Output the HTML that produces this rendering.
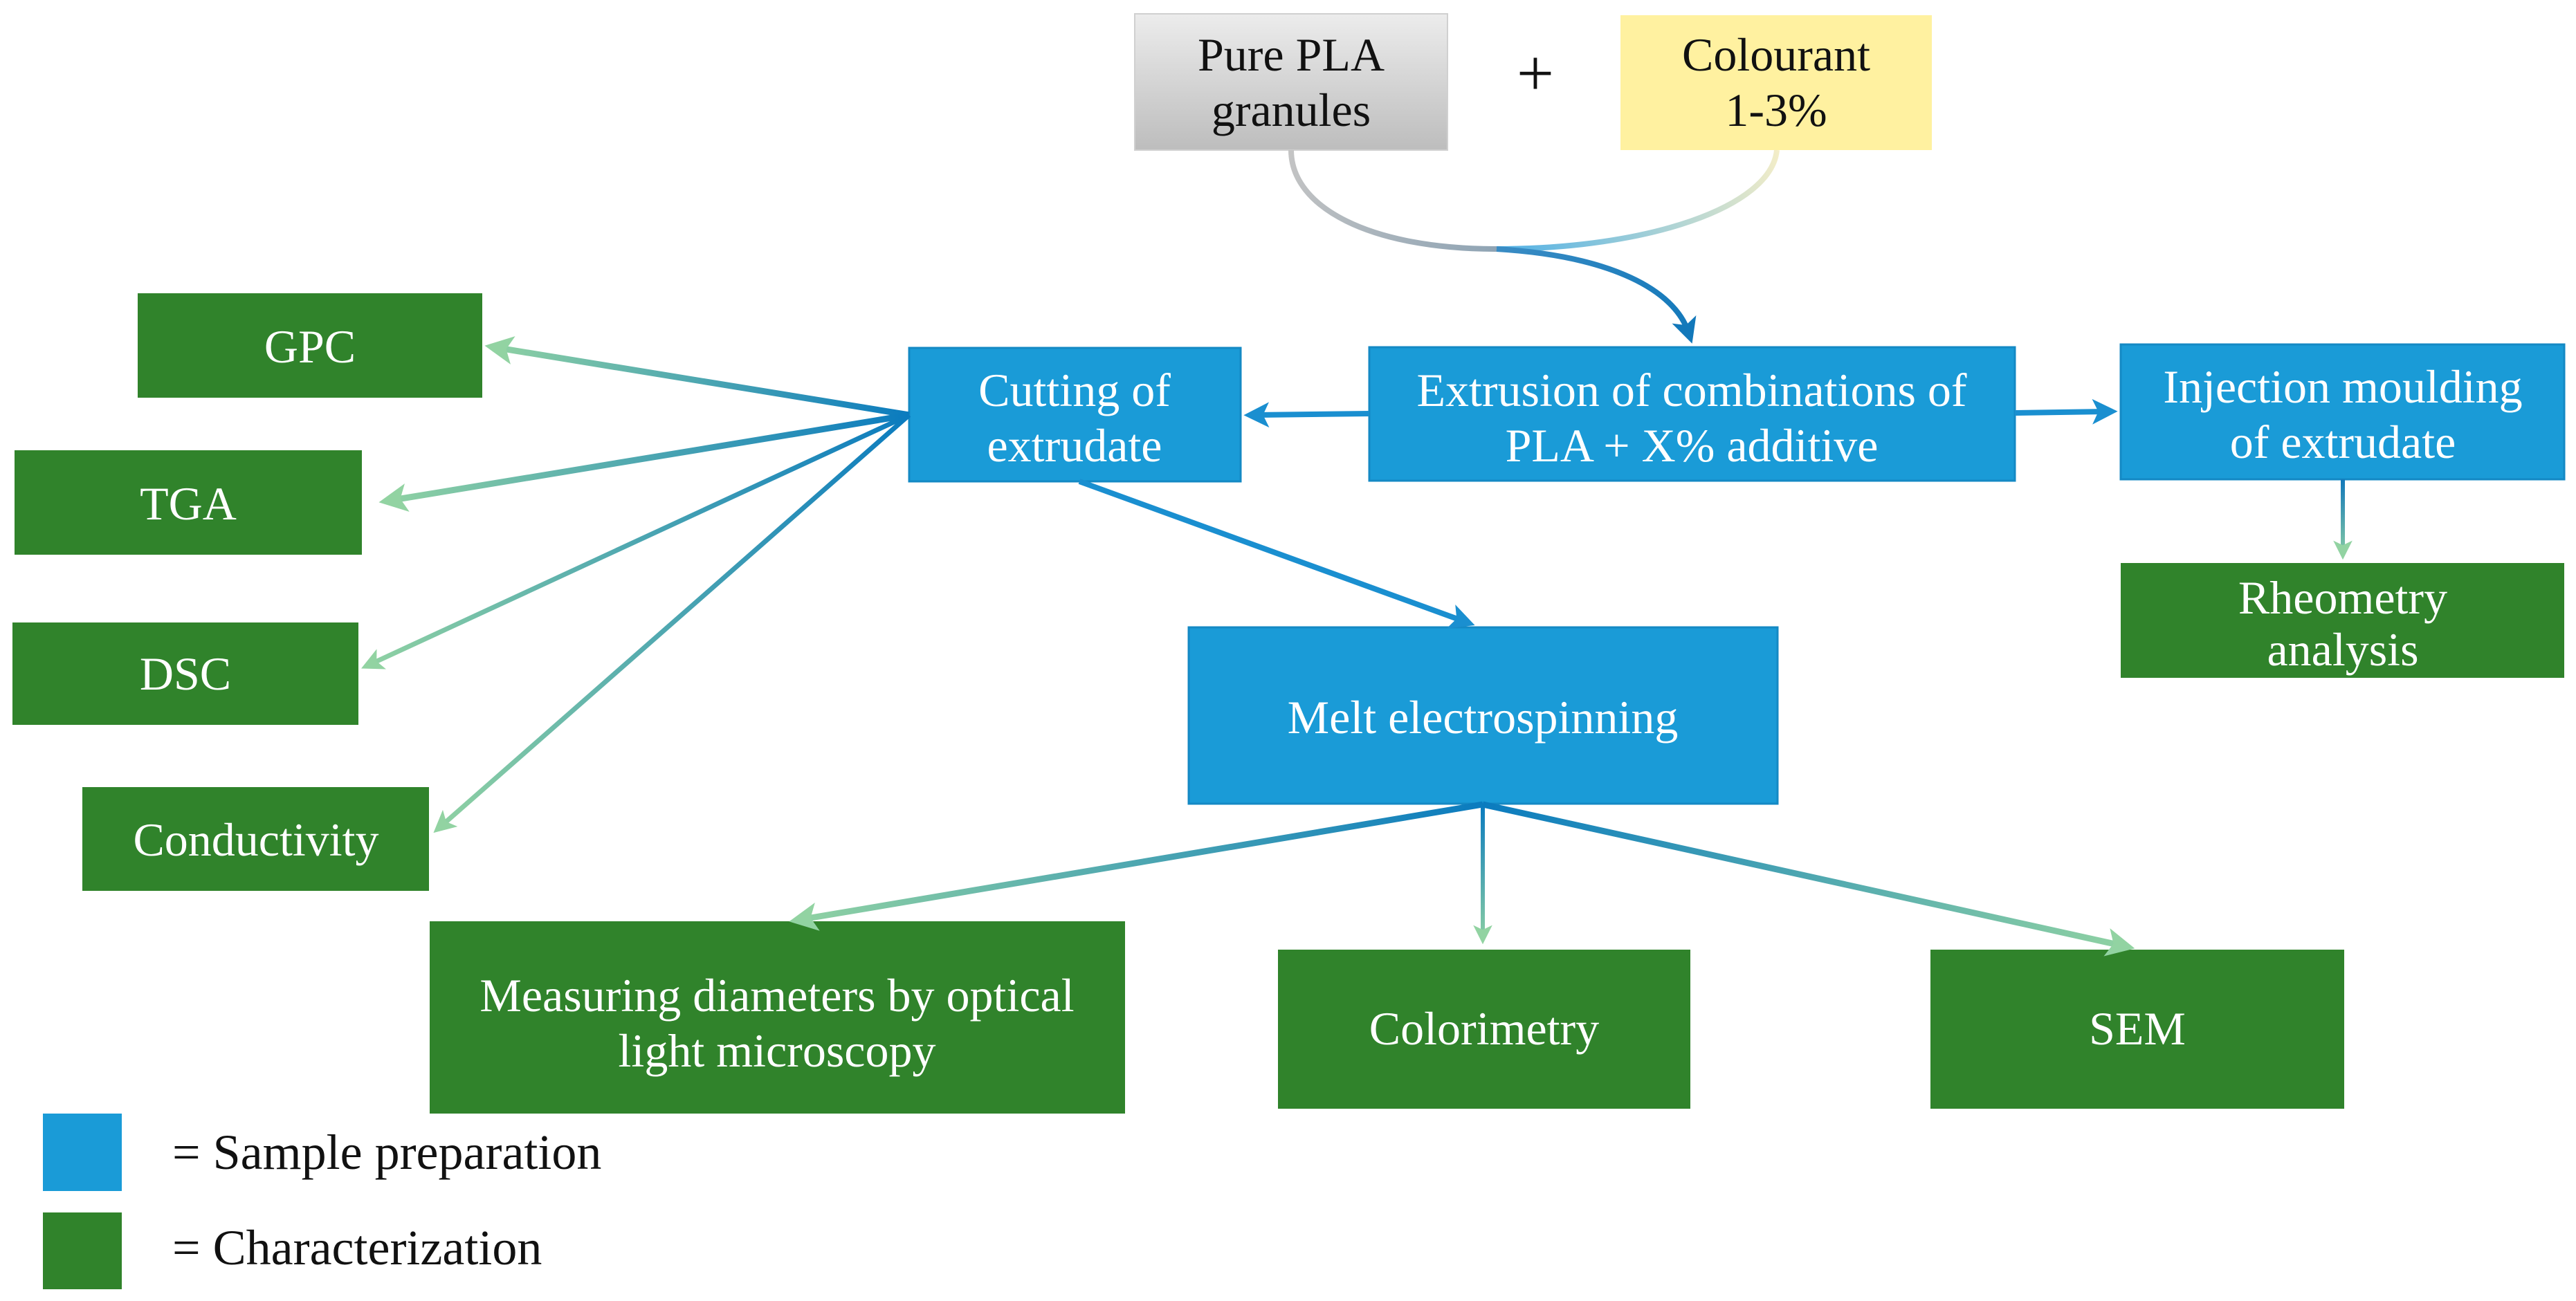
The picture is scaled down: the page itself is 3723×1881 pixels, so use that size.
<!DOCTYPE html>
<html><head><meta charset="utf-8"><style>
html,body{margin:0;padding:0;background:#fff;}
svg{display:block;}
text{font-family:"Liberation Serif",serif;}
</style></head><body>
<svg width="3723" height="1881" viewBox="0 0 3723 1881" xmlns="http://www.w3.org/2000/svg">
<defs>
<linearGradient id="gray" x1="0" y1="0" x2="0" y2="1"><stop offset="0" stop-color="#ececec"/><stop offset="1" stop-color="#bdbdbd"/></linearGradient>
<linearGradient id="c1" gradientUnits="userSpaceOnUse" x1="1866" y1="217" x2="2163" y2="360"><stop offset="0" stop-color="#c4c4c4"/><stop offset="1" stop-color="#8fa4b4"/></linearGradient>
<linearGradient id="c2" gradientUnits="userSpaceOnUse" x1="2568" y1="217" x2="2163" y2="360"><stop offset="0" stop-color="#f3edc8"/><stop offset="1" stop-color="#4fb0e6"/></linearGradient>
<linearGradient id="c3" gradientUnits="userSpaceOnUse" x1="2163" y1="360" x2="2443" y2="500"><stop offset="0" stop-color="#3a8cc4"/><stop offset="1" stop-color="#1278ba"/></linearGradient>
<marker id="ab" markerWidth="4.6" markerHeight="4.6" refX="2.4" refY="2.3" orient="auto" markerUnits="strokeWidth"><path d="M0,0 L4.6,2.3 L0,4.6 L1.1,2.3 z" fill="#1a8fd0"/></marker>
<marker id="ag" markerWidth="4.6" markerHeight="4.6" refX="2.4" refY="2.3" orient="auto" markerUnits="strokeWidth"><path d="M0,0 L4.6,2.3 L0,4.6 L1.1,2.3 z" fill="#92d3a2"/></marker>
<marker id="ad" markerWidth="4.6" markerHeight="4.6" refX="2.4" refY="2.3" orient="auto" markerUnits="strokeWidth"><path d="M0,0 L4.6,2.3 L0,4.6 L1.1,2.3 z" fill="#1278ba"/></marker>
</defs>

<rect x="1640" y="20" width="452" height="197" fill="url(#gray)" stroke="#d0d0d0" stroke-width="2"/>
<text x="1866" y="102" font-size="68" text-anchor="middle" fill="#111">Pure PLA</text>
<text x="1866" y="182" font-size="68" text-anchor="middle" fill="#111">granules</text>
<text x="2219" y="138" font-size="96" text-anchor="middle" fill="#111">+</text>
<rect x="2342" y="22" width="450" height="195" fill="#fff1a0"/>
<text x="2567" y="102" font-size="68" text-anchor="middle" fill="#111">Colourant</text>
<text x="2567" y="182" font-size="68" text-anchor="middle" fill="#111">1-3%</text>

<path d="M1866,217 C1866,300 1980,360 2163,360" fill="none" stroke="url(#c1)" stroke-width="8"/>
<path d="M2568,217 C2560,300 2380,360 2163,360" fill="none" stroke="url(#c2)" stroke-width="8"/>
<path d="M2163,360 C2330,370 2420,420 2440,480" fill="none" stroke="url(#c3)" stroke-width="8" marker-end="url(#ad)"/>

<rect x="1979" y="502" width="933" height="193" fill="#1a9bd7" stroke="#1489c4" stroke-width="3"/>
<text x="2445" y="587" font-size="68" text-anchor="middle" fill="#fff">Extrusion of combinations of</text>
<text x="2445" y="667" font-size="68" text-anchor="middle" fill="#fff">PLA + X% additive</text>

<rect x="1314" y="503" width="479" height="193" fill="#1a9bd7" stroke="#1489c4" stroke-width="3"/>
<text x="1553" y="587" font-size="68" text-anchor="middle" fill="#fff">Cutting of</text>
<text x="1553" y="667" font-size="68" text-anchor="middle" fill="#fff">extrudate</text>

<rect x="3065" y="498" width="641" height="195" fill="#1a9bd7" stroke="#1489c4" stroke-width="3"/>
<text x="3386" y="582" font-size="68" text-anchor="middle" fill="#fff">Injection moulding</text>
<text x="3386" y="662" font-size="68" text-anchor="middle" fill="#fff">of extrudate</text>

<rect x="1718" y="907" width="851" height="255" fill="#1a9bd7" stroke="#1489c4" stroke-width="3"/>
<text x="2143" y="1060" font-size="68" text-anchor="middle" fill="#fff">Melt electrospinning</text>

<g fill="#30832b">
<rect x="199" y="424" width="498" height="151"/>
<rect x="21" y="651" width="502" height="151"/>
<rect x="18" y="900" width="500" height="148"/>
<rect x="119" y="1138" width="501" height="150"/>
<rect x="3065" y="814" width="641" height="166"/>
<rect x="621" y="1332" width="1005" height="278"/>
<rect x="1847" y="1373" width="596" height="230"/>
<rect x="2790" y="1373" width="598" height="230"/>
</g>
<g fill="#fff" font-size="68" text-anchor="middle">
<text x="448" y="524">GPC</text>
<text x="272" y="751">TGA</text>
<text x="268" y="997">DSC</text>
<text x="370" y="1237">Conductivity</text>
<text x="3386" y="887">Rheometry</text>
<text x="3386" y="962">analysis</text>
<text x="1123" y="1462">Measuring diameters by optical</text>
<text x="1123" y="1542">light microscopy</text>
<text x="2145" y="1510">Colorimetry</text>
<text x="3089" y="1510">SEM</text>
</g>

<line x1="1979" y1="598" x2="1815" y2="600" stroke="#1a8fd0" stroke-width="8" marker-end="url(#ab)"/>
<line x1="2912" y1="597" x2="3043" y2="595" stroke="#1a8fd0" stroke-width="8" marker-end="url(#ab)"/>
<line x1="1560" y1="696" x2="2115" y2="898" stroke="#1a8fd0" stroke-width="8" marker-end="url(#ab)"/>

<linearGradient id="g1" gradientUnits="userSpaceOnUse" x1="1314" y1="600" x2="700" y2="500"><stop offset="0" stop-color="#0a7bbf"/><stop offset="1" stop-color="#92d3a2"/></linearGradient>
<linearGradient id="g2" gradientUnits="userSpaceOnUse" x1="1314" y1="600" x2="545" y2="726"><stop offset="0" stop-color="#0a7bbf"/><stop offset="1" stop-color="#92d3a2"/></linearGradient>
<linearGradient id="g3" gradientUnits="userSpaceOnUse" x1="1314" y1="600" x2="518" y2="970"><stop offset="0" stop-color="#0a7bbf"/><stop offset="1" stop-color="#92d3a2"/></linearGradient>
<linearGradient id="g4" gradientUnits="userSpaceOnUse" x1="1314" y1="600" x2="622" y2="1210"><stop offset="0" stop-color="#0a7bbf"/><stop offset="1" stop-color="#92d3a2"/></linearGradient>
<linearGradient id="g5" gradientUnits="userSpaceOnUse" x1="2143" y1="1163" x2="1139" y2="1333"><stop offset="0" stop-color="#0a7bbf"/><stop offset="1" stop-color="#92d3a2"/></linearGradient>
<linearGradient id="g6" gradientUnits="userSpaceOnUse" x1="2143" y1="1163" x2="2143" y2="1372"><stop offset="0" stop-color="#0a7bbf"/><stop offset="1" stop-color="#92d3a2"/></linearGradient>
<linearGradient id="g7" gradientUnits="userSpaceOnUse" x1="2143" y1="1163" x2="3086" y2="1372"><stop offset="0" stop-color="#0a7bbf"/><stop offset="1" stop-color="#92d3a2"/></linearGradient>
<linearGradient id="g8" gradientUnits="userSpaceOnUse" x1="3386" y1="693" x2="3386" y2="814"><stop offset="0" stop-color="#1278ba"/><stop offset="1" stop-color="#92d3a2"/></linearGradient>

<line x1="1314" y1="600" x2="720" y2="503" stroke="url(#g1)" stroke-width="9" marker-end="url(#ag)"/>
<line x1="1314" y1="600" x2="567" y2="723" stroke="url(#g2)" stroke-width="9" marker-end="url(#ag)"/>
<line x1="1314" y1="600" x2="536" y2="960" stroke="url(#g3)" stroke-width="7" marker-end="url(#ag)"/>
<line x1="1314" y1="600" x2="638" y2="1194" stroke="url(#g4)" stroke-width="7" marker-end="url(#ag)"/>
<line x1="2143" y1="1163" x2="1160" y2="1329" stroke="url(#g5)" stroke-width="9" marker-end="url(#ag)"/>
<line x1="2143" y1="1163" x2="2143" y2="1352" stroke="url(#g6)" stroke-width="6" marker-end="url(#ag)"/>
<line x1="2143" y1="1163" x2="3066" y2="1367" stroke="url(#g7)" stroke-width="9" marker-end="url(#ag)"/>
<line x1="3386" y1="693" x2="3386" y2="796" stroke="url(#g8)" stroke-width="6" marker-end="url(#ag)"/>

<rect x="62" y="1610" width="114" height="112" fill="#1a9bd7"/>
<rect x="62" y="1753" width="114" height="111" fill="#30832b"/>
<text x="249" y="1690" font-size="72" fill="#111">= Sample preparation</text>
<text x="249" y="1828" font-size="72" fill="#111">= Characterization</text>
</svg>
</body></html>
